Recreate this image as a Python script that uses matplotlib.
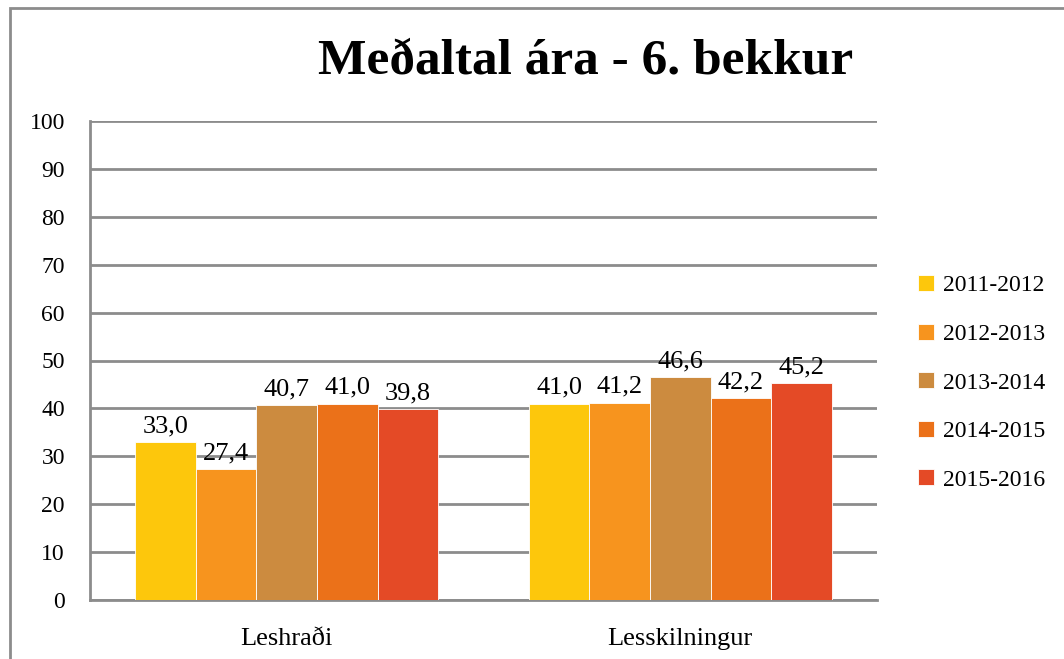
import matplotlib
matplotlib.use("Agg")
import matplotlib.pyplot as plt
import numpy as np
from matplotlib.patches import Rectangle

categories = ["Leshraði", "Lesskilningur"]
series = ["2011-2012", "2012-2013", "2013-2014", "2014-2015", "2015-2016"]
values = {
    "2011-2012": [33.0, 41.0],
    "2012-2013": [27.4, 41.2],
    "2013-2014": [40.7, 46.6],
    "2014-2015": [41.0, 42.2],
    "2015-2016": [39.8, 45.2],
}
colors = ["#FDC70C", "#F7941E", "#CC8B3F", "#EB7119", "#E44A26"]
yticks = [0, 10, 20, 30, 40, 50, 60, 70, 80, 90, 100]
title = "Meðaltal ára - 6. bekkur"

plt.rcParams['font.family'] = ['Liberation Serif', 'DejaVu Serif']

fig = plt.figure(figsize=(10.64, 6.59), dpi=100)
W, H = 1064, 659
ax = fig.add_axes([90 / W, 1 - 600 / H, (877 - 90) / W, (600 - 121) / H])

n = len(series)
bw = 0.77 / n
x = np.arange(len(categories))
for i, s in enumerate(series):
    pos = x - 0.385 + bw * (i + 0.5)
    bars = ax.bar(pos, values[s], width=bw, color=colors[i], label=s, zorder=3,
                  edgecolor="white", linewidth=0.6)
    for b, v in zip(bars, values[s]):
        ax.text(b.get_x() + b.get_width() / 2, v + 1.0, f"{v:.1f}".replace(".", ","),
                ha="center", va="bottom", fontsize=19, zorder=4)

ax.set_xlim(-0.5, 1.5)
ax.set_ylim(0, 100)
ax.set_yticks(yticks)
ax.set_yticklabels([str(t) for t in yticks], fontsize=17)
ax.set_xticks(x)
ax.set_xticklabels(categories, fontsize=19)
ax.tick_params(axis="y", length=0, pad=18)
ax.tick_params(axis="x", length=0, pad=20)
ax.grid(axis="y", color="#8C8C8C", linewidth=2, zorder=0)
for sp in ["top", "right"]:
    ax.spines[sp].set_visible(False)
for sp in ["left", "bottom"]:
    ax.spines[sp].set_color("#8C8C8C")
    ax.spines[sp].set_linewidth(2)

fig.text(586 / W, 1 - 62 / H, title, ha="center", va="center", fontsize=37,
         fontweight="bold")

handles, labels = ax.get_legend_handles_labels()
leg = fig.legend(handles, labels, loc="upper left", bbox_to_anchor=(897 / W, 1 - 254 / H),
                 frameon=False, fontsize=17, handlelength=0.65, handleheight=0.65,
                 handletextpad=0.4, labelspacing=1.16)

fig.patches.append(Rectangle((10 / W, -0.1), 1.2, 1 - 8 / H + 0.1, transform=fig.transFigure,
                             fill=False, edgecolor="#8C8C8C", linewidth=2))

fig.savefig("out.png", dpi=100)
